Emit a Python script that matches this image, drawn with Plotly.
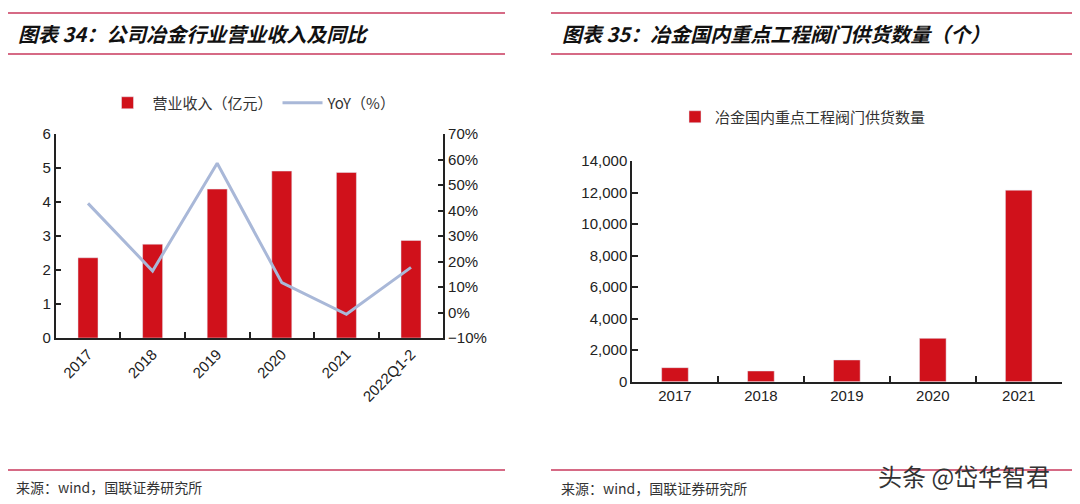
import plotly.graph_objects as go

# left chart: revenue and YoY
years_l = ['2017', '2018', '2019', '2020', '2021', '2022Q1-2']
revenue = [2.36, 2.76, 4.38, 4.91, 4.87, 2.87]
yoy = [42.8, 16.3, 58.5, 11.7, -0.7, 17.7]

# right chart: valve supply
years_r = ['2017', '2018', '2019', '2020', '2021']
supply = [890, 680, 1380, 2750, 12150]

RED = '#d0111b'
BLUE = '#a9b8d8'
PINK = '#c8385c'

# the page body keeps its default 8px margin, so the figure sits at (8, 8)
OFF = 8
W, H = 1080 - OFF, 504 - OFF

def px(x):
    return (x - OFF) / W

def py(y):
    return 1 - (y - OFF) / H

tick_font = dict(family='Liberation Sans, Arial', size=15, color='#222')
cjk = 'Noto Sans CJK SC'

fig = go.Figure()
fig.add_trace(go.Bar(x=years_l, y=revenue, name='营业收入（亿元）', marker_color=RED,
                     xaxis='x', yaxis='y', legend='legend'))
fig.add_trace(go.Scatter(x=years_l, y=yoy, name='YoY（%）', mode='lines',
                         line=dict(color=BLUE, width=3), xaxis='x', yaxis='y2', legend='legend'))
fig.add_trace(go.Bar(x=years_r, y=supply, name='冶金国内重点工程阀门供货数量', marker_color=RED,
                     xaxis='x2', yaxis='y3', legend='legend2'))

axis_common = dict(showline=True, linecolor='#222', linewidth=1.5, ticks='inside',
                   ticklen=6, tickcolor='#222', tickwidth=1.5, showgrid=False,
                   zeroline=False, tickfont=tick_font)

fig.update_layout(
    width=W, height=H, margin=dict(l=0, r=0, t=0, b=0, pad=0, autoexpand=False),
    paper_bgcolor='white', plot_bgcolor='white', bargap=0.69,
    xaxis=dict(domain=[px(55.7), px(443.3)], anchor='y', tickangle=-45,
               tickson='boundaries', **axis_common),
    yaxis=dict(domain=[py(338), py(134)], anchor='x', range=[0, 6], dtick=1,
               **axis_common),
    yaxis2=dict(overlaying='y', side='right', anchor='x', range=[-10, 70], dtick=10,
                ticksuffix='%', **axis_common),
    xaxis2=dict(domain=[px(632), px(1061.7)], anchor='y3', tickson='boundaries',
                **axis_common),
    yaxis3=dict(domain=[py(381.7), py(161)], anchor='x2', range=[0, 14000], dtick=2000,
                tickformat=',', **axis_common),
    legend=dict(orientation='h', x=px(252), y=py(103), xanchor='center', yanchor='middle',
                font=dict(family=cjk, size=15, color='#333'), itemwidth=40,
                bgcolor='rgba(0,0,0,0)'),
    legend2=dict(orientation='h', x=px(803), y=py(117), xanchor='center', yanchor='middle',
                 font=dict(family=cjk, size=15, color='#333'), bgcolor='rgba(0,0,0,0)'),
)

# header and footer rules
shapes = []
for x0, x1 in [(7, 505), (551, 1073)]:
    for y in [13, 54, 470]:
        shapes.append(dict(type='line', xref='paper', yref='paper', x0=px(x0), x1=px(x1),
                           y0=py(y), y1=py(y), line=dict(color=PINK, width=1.5)))
fig.update_layout(shapes=shapes)

title_font = dict(family=cjk, size=20, color='#111', weight='bold', style='italic')
foot_font = dict(family=cjk, size=14, color='#333')
fig.add_annotation(text='图表 34：公司冶金行业营业收入及同比', x=px(16), y=py(33),
                   xref='paper', yref='paper', xanchor='left', yanchor='middle',
                   showarrow=False, font=title_font)
fig.add_annotation(text='图表 35：冶金国内重点工程阀门供货数量（个）', x=px(560), y=py(33),
                   xref='paper', yref='paper', xanchor='left', yanchor='middle',
                   showarrow=False, font=title_font)
fig.add_annotation(text='来源：wind，国联证券研究所', x=px(14), y=py(487),
                   xref='paper', yref='paper', xanchor='left', yanchor='middle',
                   showarrow=False, font=foot_font)
fig.add_annotation(text='来源：wind，国联证券研究所', x=px(559), y=py(488),
                   xref='paper', yref='paper', xanchor='left', yanchor='middle',
                   showarrow=False, font=foot_font)
fig.add_annotation(text='头条 @岱华智君', x=px(1052), y=py(475),
                   xref='paper', yref='paper', xanchor='right', yanchor='middle',
                   showarrow=False, font=dict(family=cjk, size=24, color='#333'))

fig.write_html('out.html')
